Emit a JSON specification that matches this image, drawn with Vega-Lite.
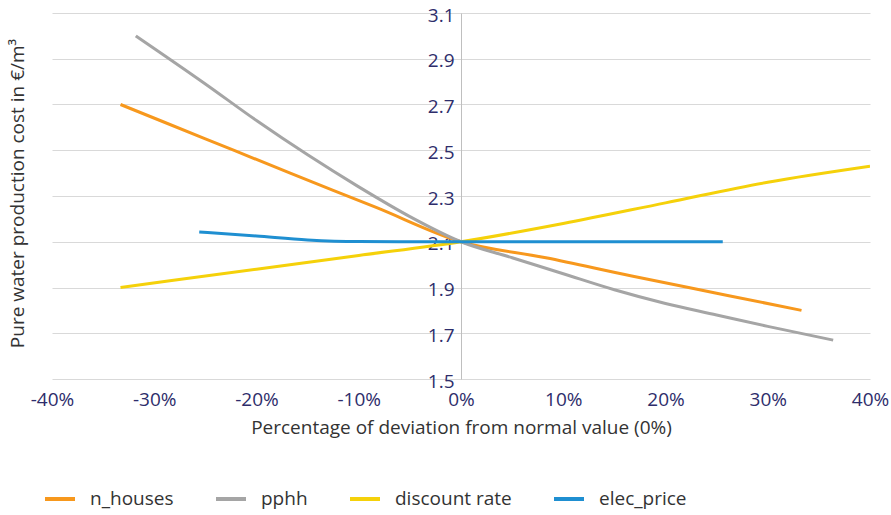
{
  "$schema": "https://vega.github.io/schema/vega-lite/v6.json",
  "width": 818,
  "height": 366,
  "autosize": "none",
  "padding": {"left": 52, "top": 13, "right": 21, "bottom": 136},
  "background": "white",
  "config": {
    "view": {"stroke": null},
    "font": "Open Sans"
  },
  "data": {
    "values": [
      {"series": "n_houses", "dev": -33.3, "cost": 2.70},
      {"series": "n_houses", "dev": -25, "cost": 2.55},
      {"series": "n_houses", "dev": -16.7, "cost": 2.40},
      {"series": "n_houses", "dev": -8.3, "cost": 2.25},
      {"series": "n_houses", "dev": 0, "cost": 2.10},
      {"series": "n_houses", "dev": 8.3, "cost": 2.03},
      {"series": "n_houses", "dev": 16.7, "cost": 1.95},
      {"series": "n_houses", "dev": 25, "cost": 1.875},
      {"series": "n_houses", "dev": 33.3, "cost": 1.80},
      {"series": "pphh", "dev": -31.8, "cost": 3.00},
      {"series": "pphh", "dev": -25, "cost": 2.79},
      {"series": "pphh", "dev": -20, "cost": 2.63},
      {"series": "pphh", "dev": -15, "cost": 2.48},
      {"series": "pphh", "dev": -10, "cost": 2.34},
      {"series": "pphh", "dev": -5, "cost": 2.21},
      {"series": "pphh", "dev": 0, "cost": 2.10},
      {"series": "pphh", "dev": 5, "cost": 2.03},
      {"series": "pphh", "dev": 10, "cost": 1.96},
      {"series": "pphh", "dev": 15, "cost": 1.89},
      {"series": "pphh", "dev": 20, "cost": 1.83},
      {"series": "pphh", "dev": 25, "cost": 1.78},
      {"series": "pphh", "dev": 30, "cost": 1.73},
      {"series": "pphh", "dev": 36.4, "cost": 1.67},
      {"series": "discount rate", "dev": -33.3, "cost": 1.90},
      {"series": "discount rate", "dev": -20, "cost": 1.98},
      {"series": "discount rate", "dev": -10, "cost": 2.04},
      {"series": "discount rate", "dev": 0, "cost": 2.10},
      {"series": "discount rate", "dev": 10, "cost": 2.18},
      {"series": "discount rate", "dev": 20, "cost": 2.27},
      {"series": "discount rate", "dev": 30, "cost": 2.36},
      {"series": "discount rate", "dev": 40, "cost": 2.43},
      {"series": "elec_price", "dev": -25.6, "cost": 2.143},
      {"series": "elec_price", "dev": -20, "cost": 2.125},
      {"series": "elec_price", "dev": -15, "cost": 2.108},
      {"series": "elec_price", "dev": -10, "cost": 2.101},
      {"series": "elec_price", "dev": 0, "cost": 2.10},
      {"series": "elec_price", "dev": 10, "cost": 2.10},
      {"series": "elec_price", "dev": 25.6, "cost": 2.10}
    ]
  },
  "mark": {"type": "line", "strokeWidth": 3, "interpolate": "monotone", "clip": true},
  "encoding": {
    "x": {
      "field": "dev",
      "type": "quantitative",
      "scale": {"domain": [-40, 40], "nice": false},
      "axis": {
        "values": [-40, -30, -20, -10, 0, 10, 20, 30, 40],
        "labelExpr": "datum.value + '%'",
        "labelFlush": false,
        "labelOverlap": false,
        "grid": false,
        "domain": false,
        "ticks": false,
        "labelPadding": 11,
        "labelFontSize": 19,
        "labelColor": "#2E2D6B",
        "labelFont": "Open Sans",
        "title": "Percentage of deviation from normal value (0%)",
        "titleFont": "Open Sans",
        "titleFontSize": 19,
        "titleFontWeight": "normal",
        "titleColor": "#333333",
        "titlePadding": 9
      }
    },
    "y": {
      "field": "cost",
      "type": "quantitative",
      "scale": {"domain": [1.5, 3.1], "nice": false, "zero": false},
      "axis": {
        "values": [1.5, 1.7, 1.9, 2.1, 2.3, 2.5, 2.7, 2.9, 3.1],
        "format": ".1f",
        "offset": -409,
        "grid": true,
        "gridColor": "#D9D9D9",
        "gridWidth": 1,
        "domain": true,
        "domainColor": "#BFBFBF",
        "ticks": false,
        "labelPadding": 7,
        "labelFontSize": 19,
        "labelColor": "#2E2D6B",
        "labelFont": "Open Sans",
        "labelOffset": 2,
        "labelOverlap": false,
        "labelFlush": false,
        "title": "Pure water production cost in €/m³",
        "titleFont": "Open Sans",
        "titleFontSize": 19,
        "titleFontWeight": "normal",
        "titleColor": "#333333",
        "titleX": -434,
        "titleY": 180,
        "titleAngle": -90,
        "titleBaseline": "bottom",
        "titleAlign": "center"
      }
    },
    "color": {
      "field": "series",
      "type": "nominal",
      "sort": ["n_houses", "pphh", "discount rate", "elec_price"],
      "scale": {
        "domain": ["n_houses", "pphh", "discount rate", "elec_price"],
        "range": ["#F7981D", "#A5A5A5", "#F5D10A", "#1F8FD1"]
      },
      "legend": {
        "orient": "none",
        "legendX": -9,
        "legendY": 469,
        "direction": "horizontal",
        "columns": 4,
        "gridAlign": "none",
        "title": null,
        "symbolType": "stroke",
        "symbolStrokeWidth": 4,
        "symbolSize": 900,
        "labelFont": "Open Sans",
        "labelFontSize": 19,
        "labelColor": "#333333",
        "labelOffset": 13,
        "columnPadding": 34
      }
    }
  }
}
